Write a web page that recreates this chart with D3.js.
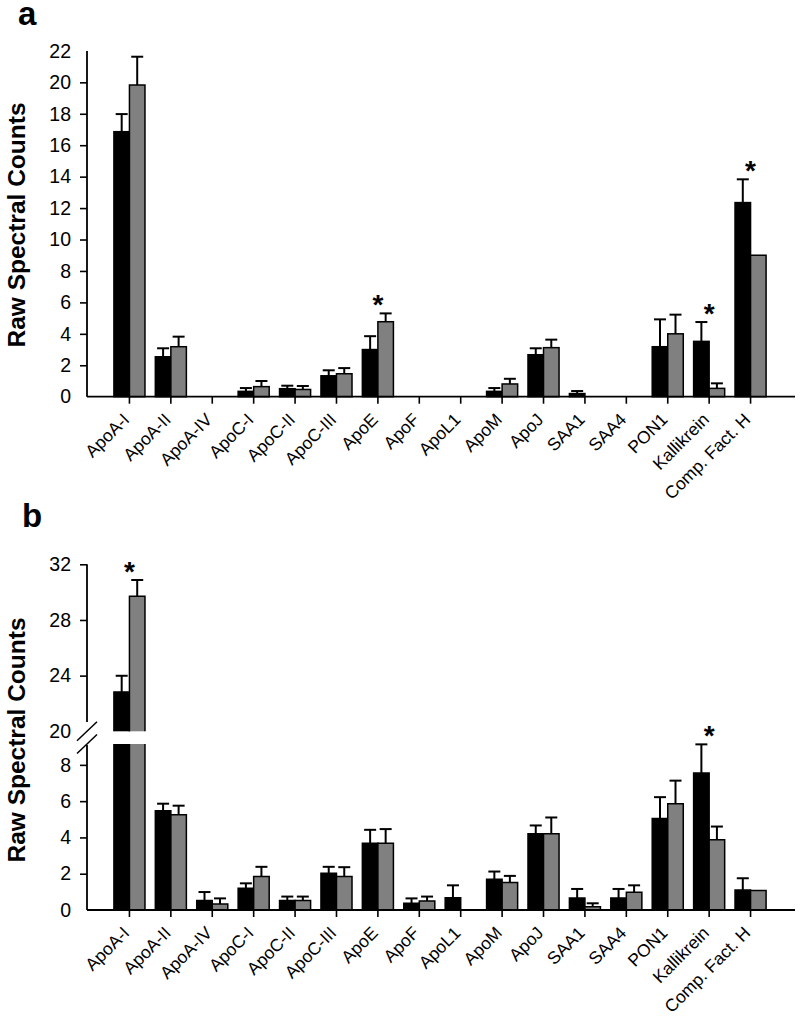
<!DOCTYPE html>
<html><head><meta charset="utf-8">
<script src="https://cdn.jsdelivr.net/npm/d3@7"></script>
<style>
body{margin:0;background:#fff}
svg{display:block}
text{font-family:"Liberation Sans",Arial,sans-serif;fill:#000}
</style>
</head><body>
<svg id="c" width="800" height="1027"></svg>
<script>
const categories = ["ApoA-I","ApoA-II","ApoA-IV","ApoC-I","ApoC-II","ApoC-III","ApoE","ApoF","ApoL1","ApoM","ApoJ","SAA1","SAA4","PON1","Kallikrein","Comp. Fact. H"];
const seriesColors = ["#000000","#808080"];

// Panel a
const aBlack    = [16.86,2.54,0,0.34,0.51,1.33,3.00,0,0,0.34,2.67,0.20,0,3.18,3.52,12.35];
const aBlackErr = [1.12,0.54,0,0.21,0.19,0.35,0.85,0,0,0.21,0.41,0.16,0,1.74,1.23,1.48];
const aGray     = [19.83,3.18,0,0.64,0.46,1.46,4.77,0,0,0.81,3.12,0,0,4.00,0.53,9.00];
const aGrayErr  = [1.80,0.64,0,0.36,0.22,0.36,0.53,0,0,0.33,0.51,0,0,1.22,0.32,0];
const aStars    = ["ApoE","Kallikrein","Comp. Fact. H"];
const aTicks    = [0,2,4,6,8,10,12,14,16,18,20,22];

// Panel b
const bBlack    = [22.83,5.47,0.52,1.20,0.52,2.03,3.68,0.37,0.68,1.69,4.20,0.66,0.66,5.05,7.55,1.10];
const bBlackErr = [1.16,0.39,0.47,0.27,0.22,0.35,0.74,0.27,0.68,0.43,0.46,0.50,0.50,1.17,1.58,0.65];
const bGray     = [29.70,5.25,0.33,1.84,0.52,1.84,3.68,0.50,0,1.51,4.20,0.18,0.98,5.86,3.87,1.07];
const bGrayErr  = [1.17,0.50,0.31,0.54,0.22,0.52,0.78,0.24,0,0.37,0.90,0.19,0.38,1.27,0.73,0];
const bStars    = ["ApoA-I","Kallikrein"];
const bTicksLow = [0,2,4,6,8];
const bTicksUp  = [20,24,28,32];

const svg = d3.select("#c");
const X0 = 87, X1 = 793;

const x = d3.scaleBand().domain(categories).range([X0, X1]).paddingInner(0.25).paddingOuter(0.65);
const xs = d3.scaleBand().domain([0,1]).range([0, x.bandwidth()]);

function xAxis(g, yPix){
  const ax = g.append("g").attr("transform",`translate(0,${yPix})`)
    .call(d3.axisBottom(x).tickSize(7).tickSizeOuter(0).tickFormat(""));
  ax.select(".domain").attr("stroke","#000").attr("stroke-width",1.8).attr("d",`M${X0},0H795`);
  ax.selectAll(".tick line").attr("stroke","#000").attr("stroke-width",1.6);
  g.append("g").selectAll("text").data(categories).join("text")
    .attr("transform", d => `translate(${x(d)+x.bandwidth()/2+1},${yPix+24}) rotate(-45)`)
    .attr("text-anchor","end")
    .attr("font-size","17.5px")
    .text(d=>d);
}

function yAxis(g, scale, ticks, from, to, noTick){
  const ax = g.append("g").attr("transform",`translate(${X0},0)`)
    .call(d3.axisLeft(scale).tickValues(ticks).tickSize(7).tickSizeOuter(0).tickPadding(9).tickFormat(d3.format("d")));
  ax.select(".domain").attr("stroke","#000").attr("stroke-width",1.8).attr("d",`M0,${from}V${to}`);
  ax.selectAll(".tick line").attr("stroke","#000").attr("stroke-width",1.6)
    .attr("x2", d => (noTick && noTick.includes(d)) ? 0 : -7);
  ax.selectAll(".tick text").attr("font-size","19.5px").attr("fill","#000").attr("font-family","'Liberation Sans',Arial,sans-serif");
}

function errBar(g, cx, yBase, yTop){
  g.append("line").attr("x1",cx).attr("x2",cx).attr("y1",yBase).attr("y2",yTop)
    .attr("stroke","#000").attr("stroke-width",2);
  g.append("line").attr("x1",cx-6).attr("x2",cx+6).attr("y1",yTop).attr("y2",yTop)
    .attr("stroke","#000").attr("stroke-width",2);
}

function yTitle(g, cy){
  g.append("text").attr("transform",`translate(25,${cy}) rotate(-90)`)
    .attr("text-anchor","middle").attr("font-weight","bold").attr("font-size","24.5px")
    .text("Raw Spectral Counts");
}

// ---------- Panel a ----------
{
  const g = svg.append("g");
  const y = d3.scaleLinear().domain([0,22]).range([396.7,50.9]);
  const series = [[aBlack,aBlackErr],[aGray,aGrayErr]];
  series.forEach(([vals,errs],s)=>{
    categories.forEach((c,i)=>{
      const v = vals[i], e = errs[i];
      if (v<=0) return;
      const bx = x(c)+xs(s);
      if (e>0) errBar(g, bx+xs.bandwidth()/2, y(v), y(v+e));
      g.append("rect").attr("x",bx).attr("y",y(v)).attr("width",xs.bandwidth()).attr("height",y(0)-y(v))
        .attr("fill",seriesColors[s]).attr("stroke","#000").attr("stroke-width",1.5);
    });
  });
  aStars.forEach(c=>{
    const i = categories.indexOf(c);
    const top = Math.max(aBlack[i]+aBlackErr[i], aGray[i]+aGrayErr[i]);
    g.append("text").attr("x",x(c)+x.bandwidth()/2).attr("y",y(top)+1)
      .attr("text-anchor","middle").attr("font-size","28px").attr("font-weight","bold").text("*");
  });
  yAxis(g, y, aTicks, 50.9, 396.7, [0,22]);
  xAxis(g, 396.7);
  yTitle(g, 225);
  g.append("text").attr("x",18).attr("y",25).attr("font-size","33px").attr("font-weight","bold").text("a");
}

// ---------- Panel b (broken axis) ----------
{
  const g = svg.append("g");
  const LOWMAX = 9.15;
  const yl = d3.scaleLinear().domain([0,LOWMAX]).range([910,744]);
  const yu = d3.scaleLinear().domain([20,32]).range([731.3,564.3]);
  const series = [[bBlack,bBlackErr],[bGray,bGrayErr]];
  function seg(g, bx, w, yb, yt, fill, closeTop, closeBottom){
    g.append("rect").attr("x",bx).attr("y",yt).attr("width",w).attr("height",yb-yt).attr("fill",fill);
    let d = `M${bx},${yb}V${yt}`;
    d += closeTop ? `H${bx+w}` : `M${bx+w},${yt}`;
    d += `V${yb}`;
    if (closeBottom) d += `H${bx}`;
    g.append("path").attr("d",d).attr("fill","none").attr("stroke","#000").attr("stroke-width",1.5);
  }
  const pos = v => v<=LOWMAX ? yl(v) : yu(v);
  series.forEach(([vals,errs],s)=>{
    categories.forEach((c,i)=>{
      const v = vals[i], e = errs[i];
      if (v<=0) return;
      const bx = x(c)+xs(s), w = xs.bandwidth();
      if (e>0) errBar(g, bx+w/2, pos(v), pos(v+e));
      if (v<=LOWMAX){
        seg(g, bx, w, yl(0), yl(v), seriesColors[s], true, true);
      } else {
        seg(g, bx, w, yl(0), yl(LOWMAX), seriesColors[s], false, true);
        seg(g, bx, w, yu(20), yu(v), seriesColors[s], true, false);
      }
    });
  });
  bStars.forEach(c=>{
    const i = categories.indexOf(c);
    const top = Math.max(bBlack[i]+bBlackErr[i], bGray[i]+bGrayErr[i]);
    g.append("text").attr("x",x(c)+x.bandwidth()/2).attr("y",pos(top)+1)
      .attr("text-anchor","middle").attr("font-size","28px").attr("font-weight","bold").text("*");
  });
  yAxis(g, yu, bTicksUp, 564.3, 722, [20]);
  yAxis(g, yl, bTicksLow, 745, 910, [0]);
  [yu(20), yl(LOWMAX)].forEach(yy=>{
    g.append("line").attr("x1",X0-10).attr("x2",X0+10).attr("y1",yy+9.5).attr("y2",yy-9.5)
      .attr("stroke","#000").attr("stroke-width",1.5);
  });
  xAxis(g, 910);
  yTitle(g, 740);
  g.append("text").attr("x",22).attr("y",527).attr("font-size","33px").attr("font-weight","bold").text("b");
}
</script>
</body></html>
